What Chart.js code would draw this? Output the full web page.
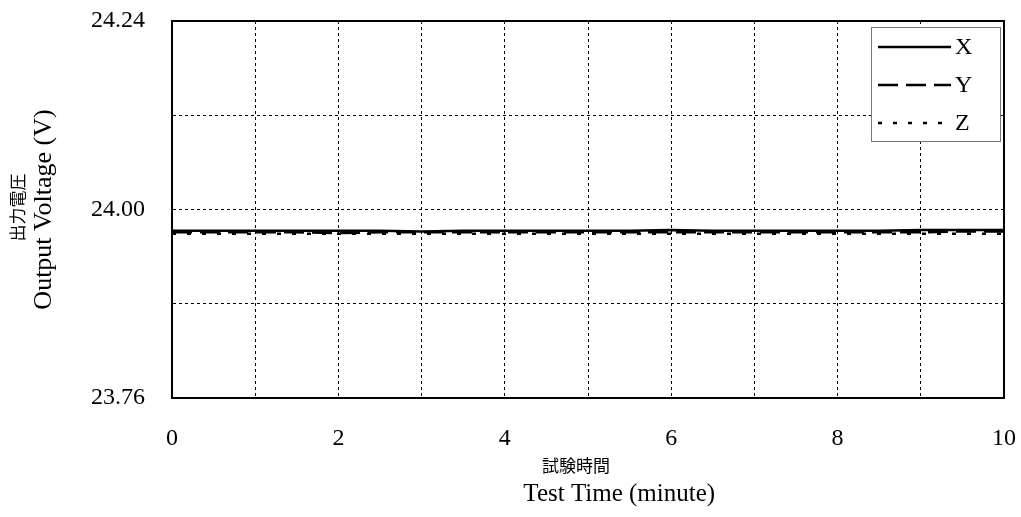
<!DOCTYPE html>
<html>
<head>
<meta charset="utf-8">
<script src="https://cdn.jsdelivr.net/npm/chart.js@4"></script>
<style>
    html, body { margin: 0; padding: 0; background: #fff; }
    #wrap { width: 1021px; height: 517px; }
</style>
</head>
<body>
<div id="wrap"><canvas id="lienzo"></canvas></div>
<script>
// test time (minute)
const tiempos = [0, 0.5, 1, 1.5, 2, 2.5, 3, 3.5, 4, 4.5, 5, 5.5, 6, 6.5, 7, 7.5, 8, 8.5, 9, 9.5, 10]
// output voltage (V) per axis
const serieX = [23.973, 23.973, 23.973, 23.973, 23.973, 23.973, 23.972, 23.973, 23.973, 23.973, 23.973, 23.973, 23.974, 23.973, 23.973, 23.973, 23.973, 23.973, 23.974, 23.974, 23.974]
const serieY = [23.971, 23.971, 23.971, 23.971, 23.970, 23.971, 23.971, 23.971, 23.971, 23.971, 23.971, 23.971, 23.971, 23.971, 23.971, 23.971, 23.971, 23.971, 23.971, 23.972, 23.972]
const serieZ = [23.969, 23.969, 23.969, 23.969, 23.969, 23.969, 23.969, 23.969, 23.969, 23.969, 23.969, 23.969, 23.969, 23.969, 23.969, 23.969, 23.969, 23.969, 23.969, 23.969, 23.969]
const etiquetasY = [23.76, 24.00, 24.24]

const fuente = "'Liberation Serif', 'Noto Sans CJK JP', serif"
const fuenteJP = "'Noto Sans CJK JP', 'Liberation Serif', serif"

const puntos = (serie) => tiempos.map((t, i) => ({x: t, y: serie[i]}))

// frame round the plot area
const marco = {
    id: "marco",
    afterDraw(chart) {
        const {ctx, chartArea: a} = chart
        ctx.save()
        ctx.strokeStyle = "#000"
        ctx.lineWidth = 2
        ctx.strokeRect(a.left, a.top, a.right - a.left, a.bottom - a.top)
        ctx.restore()
    }
}

// japanese first line of both axis titles (smaller than the english line)
const titulosJP = {
    id: "titulosJP",
    afterDraw(chart) {
        const {ctx, chartArea: a} = chart
        ctx.save()
        ctx.fillStyle = "#000"
        ctx.font = "17px " + fuenteJP
        ctx.textAlign = "center"
        ctx.textBaseline = "middle"
        ctx.fillText("試験時間", (a.left + a.right) / 2 - 12, chart.height - 51)
        ctx.translate(18, (a.top + a.bottom) / 2 - 2)
        ctx.rotate(-Math.PI / 2)
        ctx.fillText("出力電圧", 0, 0)
        ctx.restore()
    }
}

// boxed legend inside top right corner
const leyenda = {
    id: "leyenda",
    afterDraw(chart) {
        const {ctx, chartArea: a} = chart
        const x0 = a.right - 133, y0 = a.top + 6, w = 129, h = 114
        ctx.save()
        ctx.fillStyle = "#fff"
        ctx.fillRect(x0, y0, w, h)
        ctx.strokeStyle = "#777"
        ctx.lineWidth = 1
        ctx.strokeRect(x0 + 0.5, y0 + 0.5, w, h)
        chart.data.datasets.forEach((ds, i) => {
            const y = y0 + 20 + i * 38
            ctx.strokeStyle = "#000"
            ctx.lineWidth = 2.5
            ctx.setLineDash(ds.borderDash || [])
            ctx.beginPath()
            ctx.moveTo(x0 + 7, y)
            ctx.lineTo(x0 + 80, y)
            ctx.stroke()
            ctx.setLineDash([])
            ctx.fillStyle = "#000"
            ctx.font = "24px " + fuente
            ctx.textBaseline = "middle"
            ctx.fillText(ds.label, x0 + 84, y + 1)
        })
        ctx.restore()
    }
}

document.addEventListener("DOMContentLoaded", () => {
    const ctx = document.getElementById("lienzo")
    new Chart(ctx, {
        type: "line",
        data: {
            datasets: [
                {label: "X", data: puntos(serieX), borderColor: "#000", borderWidth: 2.5, pointRadius: 0, borderDash: []},
                {label: "Y", data: puntos(serieY), borderColor: "#000", borderWidth: 2.5, pointRadius: 0, borderDash: [20, 8]},
                {label: "Z", data: puntos(serieZ), borderColor: "#000", borderWidth: 2.5, pointRadius: 0, borderDash: [4, 11]},
            ]
        },
        options: {
            responsive: true,
            maintainAspectRatio: false,
            animation: false,
            layout: {padding: {top: 21, right: 17, left: 0, bottom: 0}},
            plugins: {
                legend: {display: false},
                tooltip: {enabled: false}
            },
            scales: {
                x: {
                    type: "linear",
                    min: 0,
                    max: 10,
                    afterFit: (s) => {
                        s.height = 119
                        s.paddingLeft = 0
                        s.paddingRight = 0
                    },
                    ticks: {
                        stepSize: 1,
                        color: "#000",
                        padding: 26,
                        maxRotation: 0,
                        font: {family: fuente, size: 24},
                        callback: (v) => (v % 2 === 0 ? String(v) : "")
                    },
                    grid: {color: "#000", lineWidth: 1, drawTicks: false},
                    border: {display: true, color: "#000", width: 2, dash: [3, 3]},
                    title: {
                        display: true,
                        text: "          Test Time (minute)",
                        color: "#000",
                        padding: {top: 0, bottom: 8},
                        font: {family: fuente, size: 25}
                    }
                },
                y: {
                    min: 23.76,
                    max: 24.24,
                    afterFit: (s) => {
                        s.width = 172
                        s.paddingTop = 0
                        s.paddingBottom = 0
                    },
                    ticks: {
                        stepSize: 0.12,
                        color: "#000",
                        padding: 27,
                        font: {family: fuente, size: 24},
                        callback: (v) => {
                            const hit = etiquetasY.find(e => Math.abs(e - v) < 1e-6)
                            return hit !== undefined ? hit.toFixed(2) : ""
                        }
                    },
                    grid: {color: "#000", lineWidth: 1, drawTicks: false},
                    border: {display: true, color: "#000", width: 2, dash: [3, 3]},
                    title: {
                        display: true,
                        text: "Output Voltage (V)",
                        color: "#000",
                        padding: {top: 29, bottom: 0},
                        font: {family: fuente, size: 26}
                    }
                }
            }
        },
        plugins: [marco, titulosJP, leyenda]
    })
})
</script>
</body>
</html>
